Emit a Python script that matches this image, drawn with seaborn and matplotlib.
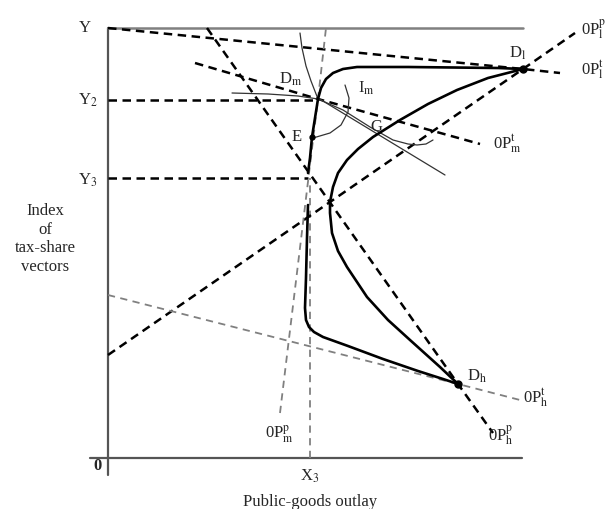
import numpy as np
import matplotlib
matplotlib.use("Agg")
import matplotlib.pyplot as plt
import seaborn as sns

# Coordinates: origin at the corner "0", x = public-goods outlay, y = tax-share index
# Key points
dm = (210, 359)
e_pt = (204, 321)
dl = (415, 389)
dh = (350, 74)
g_pt = (267, 323)

# Rays (dashed)
ray_lt_x = [0, 415, 452]
ray_lt_y = [430, 389, 385]
ray_lp_x = [0, 415, 467]
ray_lp_y = [103, 389, 425]
ray_mt_x = [87, 210, 372]
ray_mt_y = [395, 359, 314]
ray_hp_x = [99, 350, 385]
ray_hp_y = [430, 74, 25]
ray_ht_x = [0, 350, 412]
ray_ht_y = [163, 74, 58]
ray_mp_x = [172, 210, 218]
ray_mp_y = [45, 359, 430]

# Guide lines
y2_val, y3_val, x3_val = 358, 280, 202

# Thick contract curves
curve_a_x = [210, 213, 218, 225, 235, 249, 300, 390, 415]
curve_a_y = [359, 370, 379, 385, 389, 391, 391, 390, 389]
curve_b_x = [210, 207, 204, 202, 200]
curve_b_y = [359, 340, 321, 300, 285]
curve_c_x = [200, 199, 198, 197, 198, 201, 206, 215, 240, 275, 310, 335, 350]
curve_c_y = [253, 220, 180, 150, 138, 131, 126, 121, 112, 99, 87, 79, 74]
curve_d_x = [415, 380, 349, 320, 292, 265, 250, 239, 230, 225, 222, 222, 224, 230, 239, 259, 280, 302, 332, 350]
curve_d_y = [389, 380, 368, 354, 338, 321, 309, 298, 285, 271, 256, 245, 225, 207, 191, 161, 138, 118, 91, 74]

# Thin indifference curves
indiff_x = [124, 160, 190, 210, 235, 262, 285, 300, 309, 318, 325]
indiff_y = [365, 364, 362, 359, 348, 331, 318, 314, 313, 314, 318]
tangent_x = [210, 337]
tangent_y = [360, 283]
arc_top_x = [192, 194, 198, 203, 210]
arc_top_y = [425, 410, 392, 377, 359]
arc_im_x = [237, 241, 240, 233, 222, 205]
arc_im_y = [373, 360, 346, 333, 325, 320]

sns.set_style("white")
plt.rcParams['font.family'] = ['Liberation Serif', 'DejaVu Serif']
plt.rcParams['mathtext.fontset'] = 'stix'

fig = plt.figure(figsize=(6.06, 5.09), dpi=100)
ax = fig.add_axes([0, 0, 1, 1])
ax.set_xlim(-108, 498)
ax.set_ylim(-51, 458)
ax.axis('off')


def draw(x, y, **kw):
    sns.lineplot(x=x, y=y, sort=False, estimator=None, ax=ax, **kw)


thick_dash = dict(color='black', lw=1.8, linestyle=(0, (3.4, 2.2)))
gray_dash = dict(color='#808080', lw=1.3, linestyle=(0, (4, 3)))
thin = dict(color='#333333', lw=0.9)
thick = dict(color='black', lw=1.9)

# frame
draw([0, 0], [-17, 430], color='#555555', lw=1.6)
draw([-18, 414], [0, 0], color='#555555', lw=1.6)
draw([0, 415], [430, 430], color='#808080', lw=1.8)

# guides
draw([0, 210], [y2_val, y2_val], **thick_dash)
draw([0, 200], [y3_val, y3_val], **thick_dash)
draw([x3_val, x3_val], [0, y3_val], **gray_dash)

# rays
draw(ray_lt_x, ray_lt_y, **thick_dash)
draw(ray_lp_x, ray_lp_y, **thick_dash)
draw(ray_mt_x, ray_mt_y, **thick_dash)
draw(ray_hp_x, ray_hp_y, **thick_dash)
draw(ray_ht_x, ray_ht_y, **gray_dash)
draw(ray_mp_x, ray_mp_y, **gray_dash)

# thin curves
draw(indiff_x, indiff_y, **thin)
draw(tangent_x, tangent_y, **thin)
draw(arc_top_x, arc_top_y, **thin)
draw(arc_im_x, arc_im_y, **thin)

# thick curves
draw(curve_a_x, curve_a_y, **thick)
draw(curve_b_x, curve_b_y, **thick)
draw(curve_c_x, curve_c_y, **thick)
draw(curve_d_x, curve_d_y, **thick)

for p, ms in [(e_pt, 3.5), (dl, 5), (dh, 5)]:
    ax.plot(p[0], p[1], 'o', color='black', ms=ms)

fs = 12
ax.text(-23, 430, 'Y', fontsize=fs, ha='center', va='center')
ax.text(-20, 358, r'Y$_2$', fontsize=fs, ha='center', va='center')
ax.text(-20, 278, r'Y$_3$', fontsize=fs, ha='center', va='center')
ax.text(-11, -8, '0', fontsize=fs, ha='center', va='center', fontweight='bold')
ax.text(202, -18, r'X$_3$', fontsize=fs, ha='center', va='center')
ax.text(202, -44, 'Public-goods outlay', fontsize=fs, ha='center', va='center')
ax.text(-63, 219, 'Index\nof\ntax-share\nvectors', fontsize=fs, ha='center',
        va='center', linespacing=1.2)

ax.text(183, 379, r'D$_\mathrm{m}$', fontsize=fs, ha='center', va='center')
ax.text(189, 321, 'E', fontsize=fs, ha='center', va='center')
ax.text(258, 370, r'I$_\mathrm{m}$', fontsize=fs, ha='center', va='center')
ax.text(268, 331, 'G', fontsize=fs, ha='center', va='center')
ax.text(410, 405, r'D$_\mathrm{l}$', fontsize=fs, ha='center', va='center')
ax.text(369, 82, r'D$_\mathrm{h}$', fontsize=fs, ha='center', va='center')

ax.text(473, 428, r'0P$^\mathrm{p}_\mathrm{l}$', fontsize=fs, ha='left', va='center')
ax.text(473, 388, r'0P$^\mathrm{t}_\mathrm{l}$', fontsize=fs, ha='left', va='center')
ax.text(385, 314, r'0P$^\mathrm{t}_\mathrm{m}$', fontsize=fs, ha='left', va='center')
ax.text(415, 60, r'0P$^\mathrm{t}_\mathrm{h}$', fontsize=fs, ha='left', va='center')
ax.text(380, 22, r'0P$^\mathrm{p}_\mathrm{h}$', fontsize=fs, ha='left', va='center')
ax.text(157, 24, r'0P$^\mathrm{p}_\mathrm{m}$', fontsize=fs, ha='left', va='center')

fig.savefig('out.png', dpi=100)
